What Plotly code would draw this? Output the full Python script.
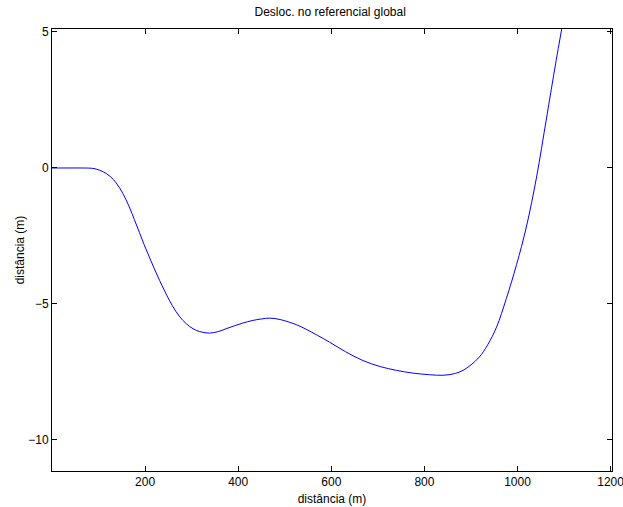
import plotly.graph_objects as go

# data
dist_x = [0, 30, 60, 85, 95, 110, 125, 138, 152, 166, 177, 188, 198, 209, 220, 231, 242, 252, 266, 281, 296, 310, 324, 338, 356, 374, 392, 410, 430, 450, 468, 490, 510, 525, 545, 570, 596, 630, 668, 705, 740, 775, 811, 840, 865, 883, 900, 918, 936, 955, 976, 998, 1019, 1041, 1062, 1083, 1100, 1110]
dist_y = [0, 0, 0, -0.01, -0.04, -0.14, -0.31, -0.55, -0.93, -1.43, -1.9, -2.38, -2.82, -3.27, -3.71, -4.13, -4.52, -4.86, -5.27, -5.6, -5.83, -5.97, -6.04, -6.07, -6.02, -5.91, -5.8, -5.7, -5.61, -5.55, -5.52, -5.57, -5.67, -5.76, -5.92, -6.15, -6.40, -6.75, -7.08, -7.3, -7.44, -7.54, -7.60, -7.62, -7.56, -7.44, -7.24, -6.95, -6.5, -5.85, -4.8, -3.55, -2.17, -0.33, 1.8, 3.95, 5.6, 6.6]

x_ticks = [200, 400, 600, 800, 1000, 1200]
y_ticks = [-10, -5, 0, 5]

fig = go.Figure()
fig.add_trace(go.Scatter(x=dist_x, y=dist_y, mode="lines",
                         line=dict(color="#0000ff", width=1, shape="spline", smoothing=1.0),
                         showlegend=False, hoverinfo="skip"))

axis_common = dict(showgrid=False, zeroline=False, showline=True, linecolor="#000000",
                   linewidth=1, mirror="ticks", ticks="inside", ticklen=5,
                   tickcolor="#000000", tickfont=dict(size=12, color="#000000"),
                   automargin=False, ticklabeloverflow="allow")

fig.update_layout(
    width=623, height=507,
    margin=dict(l=52, r=11, t=29, b=36),
    paper_bgcolor="#ffffff", plot_bgcolor="#ffffff",
    font=dict(family="Liberation Sans, Arial, sans-serif", size=12, color="#000000"),
    title=dict(text="Desloc. no referencial global", x=0.53, xanchor="center",
               y=1 - 12 / 507, yanchor="middle", font=dict(size=12), automargin=False),
    xaxis=dict(range=[0, 1203], tickvals=x_ticks,
               title=dict(text="distância (m)", standoff=6, font=dict(size=12)),
               **axis_common),
    yaxis=dict(range=[-11.14, 5.11], tickvals=y_ticks,
               title=dict(text="distância (m)", standoff=1, font=dict(size=12)),
               **axis_common),
)

fig.write_html("out.html", config={"displayModeBar": False},
               post_script="document.body.style.margin='0';document.body.style.overflow='hidden';")
